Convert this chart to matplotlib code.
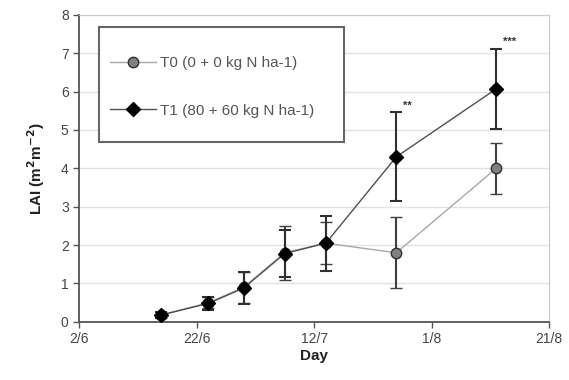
"""
LAI over the season for two N treatments
"""
import numpy as np
import matplotlib
matplotlib.use('Agg')
import matplotlib.pyplot as plt
import matplotlib.dates as mdates
from matplotlib.patches import Rectangle
from matplotlib.lines import Line2D

plt.rcParams['font.family'] = ['Liberation Sans', 'DejaVu Sans']

dates = np.array(['2009-06-16', '2009-06-24', '2009-06-30', '2009-07-07',
                  '2009-07-14', '2009-07-26', '2009-08-12'], dtype='datetime64[D]')
t0_lai = [0.18, 0.50, 0.90, 1.80, 2.05, 1.80, 4.00]
t0_err = [0.08, 0.15, 0.40, 0.70, 0.55, 0.92, 0.66]
t1_lai = [0.18, 0.48, 0.88, 1.78, 2.05, 4.30, 6.07]
t1_err = [0.08, 0.18, 0.42, 0.62, 0.72, 1.16, 1.05]
signif = ['', '', '', '', '', '**', '***']

labels = ['T0 (0 + 0 kg N ha-1)', 'T1 (80 + 60 kg N ha-1)']
xticks = np.array(['2009-06-02', '2009-06-22', '2009-07-12',
                   '2009-08-01', '2009-08-21'], dtype='datetime64[D]')

x = dates.astype('O')

fig = plt.figure(figsize=(5.69, 3.8), dpi=100)
ax = fig.add_axes([0.139, 0.153, 0.826, 0.808])

t0_style = dict(color='#a8a8a8', lw=1.0, marker='o', ms=7.5,
                mfc='#808080', mec='#303030', mew=1.0)
t1_style = dict(color='#505050', lw=1.0, marker='D', ms=7,
                mfc='black', mec='black')

ax.errorbar(x, t0_lai, yerr=t0_err, ecolor='#404040', elinewidth=1.5,
            capsize=4.5, capthick=1.5, zorder=3, **t0_style)
ax.errorbar(x, t1_lai, yerr=t1_err, ecolor='#303030', elinewidth=1.5,
            capsize=4.5, capthick=1.5, zorder=4, **t1_style)

for d, y, e, s in zip(x, t1_lai, t1_err, signif):
    if s:
        ax.text(mdates.date2num(d) + 1.2, y + e + 0.05, s, fontsize=8,
                color='#333333', ha='left', va='bottom', fontweight='bold')

ax.set_ylim(0, 8)
ax.set_yticks(range(0, 9))
ax.set_xlim(xticks[0].astype('O'), xticks[-1].astype('O'))
ax.set_xticks(xticks.astype('O'))
ax.xaxis.set_major_formatter(mdates.DateFormatter('%-d/%-m'))

ax.grid(axis='y', color='#e2e2e2', lw=1.0)
ax.set_axisbelow(True)
for side in ['top', 'right']:
    ax.spines[side].set_color('#c8c8c8')
for side in ['left', 'bottom']:
    ax.spines[side].set_color('#555555')
    ax.spines[side].set_linewidth(1.3)
ax.tick_params(colors='#555555', labelcolor='#444444', labelsize=10,
               length=4, width=1.0)

ax.set_xlabel('Day', fontsize=11, fontweight='bold', color='#222222', labelpad=2)
ax.set_ylabel(r'LAI (m$^{\mathbf{2}}$m$^{\mathbf{-2}}$)', fontsize=11,
              fontweight='bold', color='#222222', labelpad=10)

ax.add_patch(Rectangle((0.043, 0.585), 0.52, 0.376, transform=ax.transAxes,
                       fill=True, facecolor='white', edgecolor='#666666',
                       lw=1.5, zorder=5))
handles = [Line2D([], [], **t0_style), Line2D([], [], **t1_style)]
leg = ax.legend(handles, labels, loc='upper left', bbox_to_anchor=(0.05, 0.89),
                frameon=False, fontsize=11, labelspacing=2.2, handlelength=3.0,
                handletextpad=0.25, borderpad=0)
leg.set_zorder(6)
for t in leg.get_texts():
    t.set_color('#555555')

fig.savefig('out.png', dpi=100)
